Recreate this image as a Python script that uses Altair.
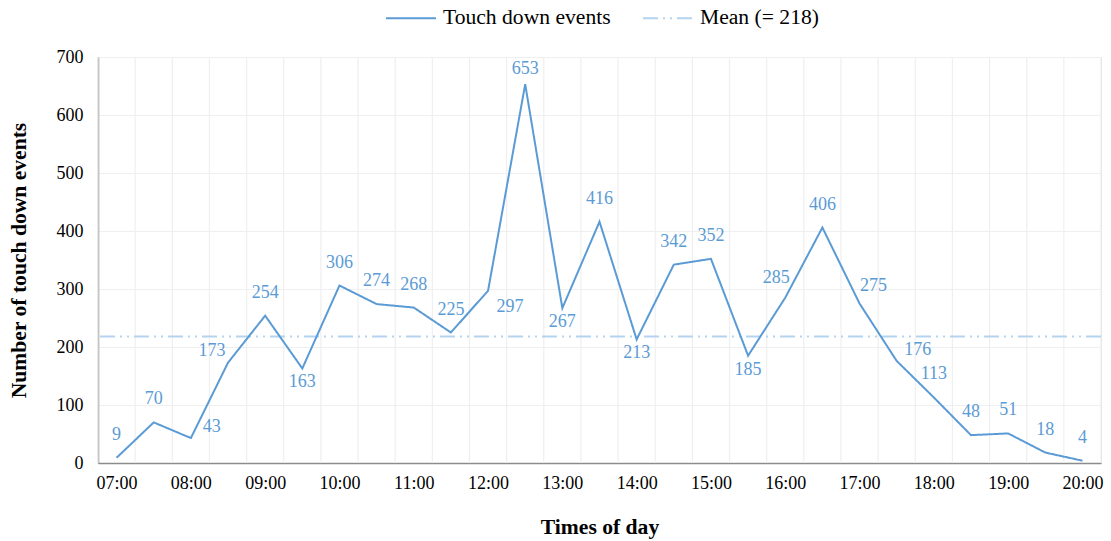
import altair as alt
import pandas as pd

# Half-hourly touch down events, 07:00 to 20:00
TIMES = [
    "07:00", "07:30", "08:00", "08:30", "09:00", "09:30", "10:00", "10:30",
    "11:00", "11:30", "12:00", "12:30", "13:00", "13:30", "14:00", "14:30",
    "15:00", "15:30", "16:00", "16:30", "17:00", "17:30", "18:00", "18:30",
    "19:00", "19:30", "20:00",
]
EVENTS = [
    9, 70, 43, 173, 254, 163, 306, 274, 268, 225, 297, 653, 267, 416,
    213, 342, 352, 185, 285, 406, 275, 176, 113, 48, 51, 18, 4,
]
MEAN = 218

# Where each value label sits relative to its point
PLACEMENT = [
    "above", "above", "right", "left", "above", "below", "above", "above",
    "above", "above", "below_right", "peak", "below", "above", "below",
    "above", "above", "below", "upper_left", "above", "above_right", "right",
    "above", "above", "above", "above", "above",
]
OFFSETS = {
    "above": (0, -23),
    "peak": (0, -15),
    "below": (0, 14),
    "left": (-16, -12),
    "upper_left": (-9, -20),
    "right": (21, -11),
    "above_right": (14, -18),
    "below_right": (22, 16),
}

LINE_NAME = "Touch down events"
MEAN_NAME = f"Mean (= {MEAN})"
BLUE = "#5B9BD5"
LIGHT = "#B4D3EF"
FONT = "Liberation Serif"

df = pd.DataFrame({
    "idx": list(range(len(TIMES))),
    "time": TIMES,
    "events": EVENTS,
    "place": PLACEMENT,
    "series": LINE_NAME,
})
mean_df = pd.DataFrame({"series": [MEAN_NAME], "events": [MEAN]})
bounds_df = pd.DataFrame({"b": [i - 0.5 for i in range(len(TIMES) + 1)]})

x_scale = alt.Scale(domain=[-0.5, len(TIMES) - 0.5], nice=False, zero=False)
y_scale = alt.Scale(domain=[0, 700], nice=False)

label_array = "[" + ",".join(f"'{t}'" for t in TIMES) + "]"

x_axis = alt.Axis(
    values=list(range(0, len(TIMES), 2)),
    labelExpr=f"{label_array}[datum.value]",
    title="Times of day",
    titleFont=FONT, titleFontSize=21.6, titleFontWeight="bold", titleColor="black",
    titleX=501.5, titleY=64, titleBaseline="middle", titleAnchor="middle",
    labelFont=FONT, labelFontSize=18, labelColor="black", labelPadding=11,
    ticks=False, grid=False, domainColor="#8C8C8C", domainWidth=1.5,
)
y_axis = alt.Axis(
    values=list(range(0, 701, 100)),
    title="Number of touch down events",
    titleFont=FONT, titleFontSize=21.6, titleFontWeight="bold", titleColor="black",
    titleX=-79, titleY=203, titleAngle=270, titleAlign="center", titleBaseline="middle",
    labelFont=FONT, labelFontSize=18, labelColor="black", labelPadding=15,
    ticks=False, grid=True, gridColor="#EFEFEF", gridWidth=1.2,
    domainColor="#8C8C8C", domainWidth=1.5,
)

color = alt.Color(
    "series:N",
    scale=alt.Scale(domain=[LINE_NAME, MEAN_NAME], range=[BLUE, LIGHT]),
    legend=alt.Legend(
        orient="none", legendX=287, legendY=-65, direction="horizontal",
        columns=2, title=None, symbolType="stroke", symbolSize=2500,
        symbolStrokeWidth=2, labelFont=FONT, labelFontSize=21.6,
        labelColor="black", labelOffset=6, columnPadding=28, labelLimit=0,
    ),
)
dash = alt.StrokeDash(
    "series:N",
    scale=alt.Scale(domain=[LINE_NAME, MEAN_NAME], range=[[1, 0], [15, 5, 2, 5, 2, 5]]),
    legend=None,
)

grid_v = alt.Chart(bounds_df).mark_rule(color="#EFEFEF", strokeWidth=1.2).encode(
    x=alt.X("b:Q", scale=x_scale, axis=x_axis),
)

mean_rule = alt.Chart(mean_df).mark_rule(strokeWidth=2).encode(
    y=alt.Y("events:Q", scale=y_scale, axis=y_axis),
    color=color,
    strokeDash=dash,
)

line = alt.Chart(df).mark_line(strokeWidth=2).encode(
    x=alt.X("idx:Q", scale=x_scale, axis=x_axis),
    y=alt.Y("events:Q", scale=y_scale, axis=y_axis),
    color=color,
    strokeDash=dash,
)

texts = []
for place, (dx, dy) in OFFSETS.items():
    texts.append(
        alt.Chart(df).transform_filter(alt.datum.place == place).mark_text(
            font=FONT, fontSize=18, color=BLUE, dx=dx, dy=dy,
            align="center", baseline="middle",
        ).encode(
            x=alt.X("idx:Q", scale=x_scale),
            y=alt.Y("events:Q", scale=y_scale),
            text="events:Q",
        )
    )

chart = alt.layer(grid_v, mean_rule, line, *texts).properties(
    width=1003,
    height=406,
    autosize=alt.AutoSizeParams(type="none"),
    padding={"left": 98, "top": 57, "right": 10, "bottom": 78},
    background="white",
).configure_view(stroke=None).configure(font=FONT)

chart.save("out.html", embed_options={"renderer": "svg", "actions": False})
